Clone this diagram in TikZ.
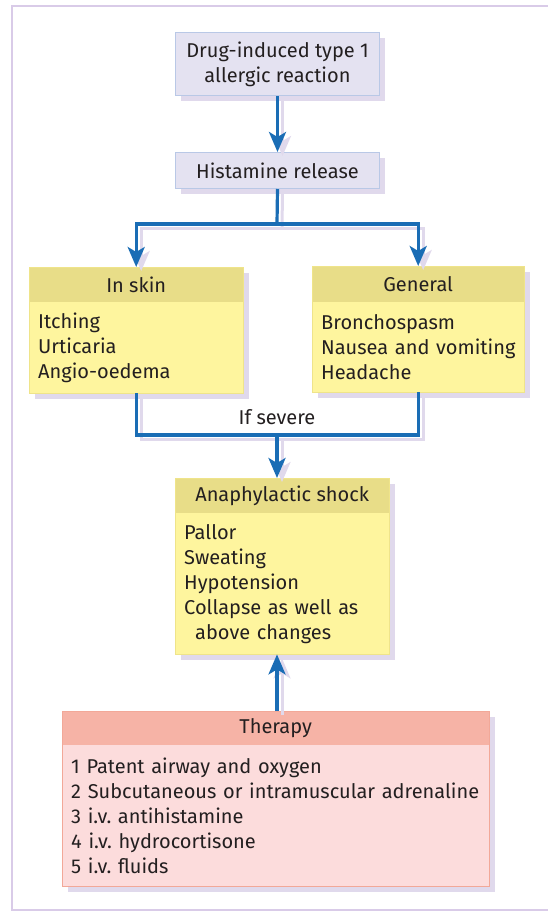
\documentclass[tikz,border=0pt]{standalone}
\usepackage{fontspec}
\setmainfont{Fira Sans}
\frenchspacing
\hfuzz=50pt
\usetikzlibrary{arrows.meta}
\definecolor{framecol}{HTML}{D9CBE8}
\definecolor{shadowcol}{HTML}{E0D9EC}
\definecolor{lavfill}{HTML}{E4E2F1}
\definecolor{lavbord}{HTML}{B9C8E6}
\definecolor{yhdr}{HTML}{E8DD88}
\definecolor{ybody}{HTML}{FEF59E}
\definecolor{ybord}{HTML}{EFE48A}
\definecolor{rhdr}{HTML}{F6B3A6}
\definecolor{rbody}{HTML}{FCDCDC}
\definecolor{rbord}{HTML}{F2A898}
\definecolor{bluec}{HTML}{1A6DB5}
\definecolor{txt}{HTML}{231F20}
\tikzset{
  every node/.style={text=txt, font=\fontsize{20}{25}\selectfont},
  lavbox/.style={draw=lavbord, fill=lavfill, line width=1pt, anchor=north west, inner sep=0pt, align=center},
  hdrbox/.style={anchor=north west, inner sep=0pt, align=center},
  bodybox/.style={anchor=north west, inner sep=0pt, inner xsep=9pt, align=left},
  shadowfill/.style={fill=shadowcol},
  lineblue/.style={draw=bluec, line width=3.2pt,
     preaction={draw=shadowcol, line width=3pt, transform canvas={shift={(5pt,-4pt)}}}},
  conn/.style={lineblue, -{Stealth[length=20pt, width=17pt, inset=5pt]}},
}
\begin{document}
\begin{tikzpicture}[x=1pt,y=-1pt]
\useasboundingbox (0,0) rectangle (548,911);
% frame
\draw[framecol, line width=1.5pt] (548,6) -- (12,6) -- (12,910) -- (548,910);

% top box
\fill[shadowfill] (181,38) rectangle (385,101);
\node[lavbox, minimum width=204, minimum height=63] (top) at (175,32) {Drug-induced type 1\\allergic reaction};
% histamine
\fill[shadowfill] (181,158) rectangle (385,194);
\node[lavbox, minimum width=204, minimum height=36] (hist) at (175,152) {Histamine release};

% skin box
\fill[shadowfill] (35,273) rectangle (249,399);
\node[hdrbox, fill=yhdr, minimum width=214, minimum height=35] (skinh) at (29,267) {In skin};
\node[bodybox, fill=ybody, minimum width=214, minimum height=91, text width=196] (skinb) at (29,302) {Itching\\Urticaria\\Angio-oedema};
\draw[ybord, line width=1pt] (skinh.north west) rectangle (skinb.south east);

% general box
\fill[shadowfill] (318,272) rectangle (530,398);
\node[hdrbox, fill=yhdr, minimum width=212, minimum height=36] (genh) at (312,266) {General};
\node[bodybox, fill=ybody, minimum width=212, minimum height=90, text width=194] (genb) at (312,302) {Bronchospasm\\\mbox{Nausea and vomiting}\\Headache};
\draw[ybord, line width=1pt] (genh.north west) rectangle (genb.south east);

% anaphylactic box
\fill[shadowfill] (181,484) rectangle (395,660);
\node[hdrbox, fill=yhdr, minimum width=214, minimum height=35] (anah) at (175,478) {Anaphylactic shock};
\node[bodybox, fill=ybody, minimum width=214, minimum height=141, text width=196] (anab) at (175,513) {Pallor\\Sweating\\Hypotension\\\mbox{Collapse as well as}\\\hspace*{11pt}above changes};
\draw[ybord, line width=1pt] (anah.north west) rectangle (anab.south east);

% therapy box
\fill[shadowfill] (68,717) rectangle (495,892);
\node[hdrbox, fill=rhdr, minimum width=427, minimum height=34] (therh) at (62,711) {Therapy};
\node[bodybox, fill=rbody, minimum width=427, minimum height=141, text width=409] (therb) at (62,745) {1 Patent airway and oxygen\\\mbox{2 Subcutaneous or intramuscular adrenaline}\\3 i.v. antihistamine\\4 i.v. hydrocortisone\\5 i.v. fluids};
\draw[rbord, line width=1pt] (therh.north west) rectangle (therb.south east);

% connectors
\coordinate (split) at (277,224);
\coordinate (merge) at (277,435);
\draw[conn] (top.south) -- (hist.north);
\draw[lineblue] (hist.south) -- (split);
\draw[conn] (split) -| (skinh.north);
\draw[conn] (split) -| (genh.north);
\draw[lineblue] (skinb.south) |- (merge);
\draw[lineblue] (genb.south) |- (merge);
\draw[conn] (merge) -- (anah.north -| merge);
\draw[conn] (therh.north -| merge) -- (anab.south -| merge);
\node (sev) at (277,417) {If severe};
\end{tikzpicture}
\end{document}
